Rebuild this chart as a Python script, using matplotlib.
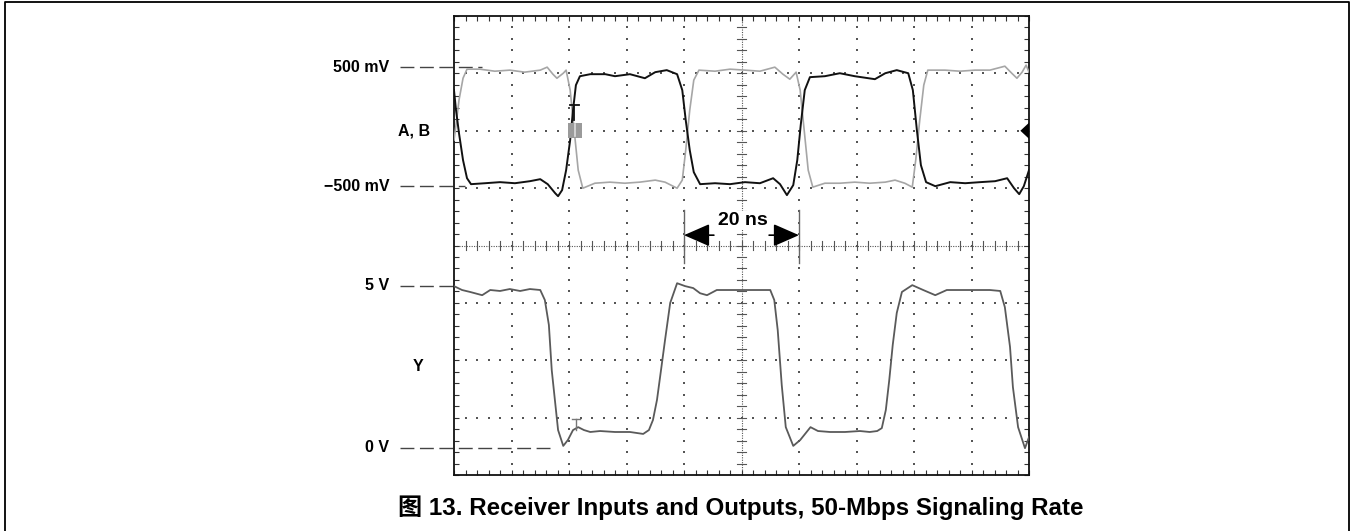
import numpy as np
import matplotlib
matplotlib.use("Agg")
import matplotlib.pyplot as plt
from matplotlib.lines import Line2D
from matplotlib.patches import Rectangle, Polygon

plt.rcParams['font.family'] = ['Liberation Sans', 'Noto Sans CJK SC', 'DejaVu Sans']

# trace A (black), time in ns, level in mV
t_a = [0, 0.35, 0.87, 1.57, 2.26, 2.96, 5.4, 8.0, 10.6, 13.2, 15.0, 16.3, 17.6, 18.1, 18.8, 19.5,
       20.2, 20.7, 21.2, 21.9, 23.7, 26.3, 28.0, 30.6, 33.2, 35.0, 37.0, 38.8, 39.7, 40.3, 41.0,
       41.7, 42.8, 45.4, 48.0, 50.6, 53.2, 55.5, 56.7, 57.9, 59.0, 59.7, 60.3, 61.0, 61.9, 64.5,
       67.1, 69.7, 73.2, 75.0, 77.0, 79.0, 79.8, 80.5, 81.2, 82.1, 83.7, 86.3, 88.9, 91.5, 94.1,
       96.2, 97.4, 98.3, 99.1, 100]
mv_a = [306, 139, -55, -281, -433, -483, -475, -466, -475, -458, -441, -483, -559, -584, -533, -365,
        -113, 139, 349, 424, 441, 441, 424, 441, 407, 458, 475, 441, 307, 55, -197,
        -382, -483, -475, -483, -466, -475, -433, -483, -575, -491, -281, 13, 307, 416, 424,
        449, 424, 399, 449, 475, 449, 307, -29, -323, -466, -500, -466, -475, -466, -458,
        -433, -517, -567, -500, -365]

# trace B (gray), time in ns, level in mV
t_b = [0, 0.35, 0.87, 1.57, 2.26, 4.5, 7.1, 9.7, 12.3, 15.0, 16.2, 17.2, 17.9, 19.0, 19.5, 20.2,
       20.9, 21.6, 22.4, 24.5, 27.1, 29.7, 32.3, 35.0, 36.7, 38.8, 39.7, 40.3, 41.0, 41.7, 42.6,
       45.4, 48.0, 50.6, 53.2, 55.8, 57.2, 58.4, 59.5, 60.2, 60.9, 61.6, 62.4, 64.5, 67.1, 69.7,
       72.3, 75.0, 76.7, 78.4, 79.7, 80.3, 81.0, 81.7, 82.4, 85.4, 88.0, 90.6, 93.2, 95.8, 97.0,
       97.9, 98.8, 99.5, 100]
mv_b = [-113, 13, 223, 407, 483, 483, 466, 475, 458, 475, 500, 441, 407, 449, 475, 307,
        -29, -365, -517, -475, -466, -475, -466, -449, -466, -517, -449, -197, 139, 391, 475,
        466, 483, 475, 466, 500, 441, 399, 458, 307, -29, -365, -508, -475, -475, -466,
        -475, -466, -449, -475, -508, -281, 55, 349, 475, 475, 466, 475, 475, 508, 449,
        407, 458, 517, 458]

# output Y, time in ns, level in V
t_y = [0, 1.4, 2.8, 4.9, 6.3, 8.0, 9.7, 11.5, 13.2, 15.0, 15.8, 16.5, 17.0, 17.6, 18.1, 19.0,
       19.8, 20.7, 21.6, 22.6, 23.7, 25.4, 28.0, 30.6, 32.9, 33.9, 34.6, 35.3, 36.0, 36.7, 37.6,
       38.8, 40.2, 41.6, 42.8, 44.0, 45.7, 48.0, 50.6, 53.2, 55.0, 55.7, 56.3, 57.0, 57.7, 59.0,
       60.2, 62.0, 63.3, 65.4, 68.0, 70.6, 72.3, 73.6, 74.4, 75.1, 75.7, 76.3, 77.0, 77.9, 79.7,
       81.6, 83.7, 85.7, 88.0, 90.6, 93.2, 95.0, 95.8, 96.7, 97.2, 98.1, 99.3, 100]
v_y = [4.99, 4.87, 4.81, 4.71, 4.87, 4.84, 4.90, 4.84, 4.90, 4.87, 4.56, 3.79, 2.39, 1.38, 0.54, 0.05,
       0.23, 0.54, 0.63, 0.54, 0.48, 0.51, 0.48, 0.48, 0.42, 0.54, 0.85, 1.47, 2.39, 3.32, 4.47,
       5.08, 4.99, 4.93, 4.77, 4.71, 4.87, 4.87, 4.87, 4.87, 4.87, 4.56, 3.63, 1.93, 0.63, 0.05,
       0.23, 0.63, 0.51, 0.48, 0.48, 0.51, 0.48, 0.51, 0.60, 1.16, 2.09, 3.17, 4.16, 4.81, 5.02,
       4.87, 4.71, 4.87, 4.87, 4.87, 4.87, 4.84, 4.34, 3.11, 1.87, 0.63, -0.02, 0.32]

ch1_labels = ["500 mV", "\u2212500 mV"]
ch1_levels = [500, -500]
ch2_labels = ["5 V", "0 V"]
ch2_levels = [5, 0]
caption = "图 13. Receiver Inputs and Outputs, 50-Mbps Signaling Rate"


def ch1(mv):
    return 6.071 + np.asarray(mv) / 482.0


def ch2(v):
    return 0.479 + np.asarray(v) / 1.774


W, H = 1351, 531
fig = plt.figure(figsize=(W / 100, H / 100), dpi=100)
ax = fig.add_axes([454 / W, (H - 475) / H, 575 / W, 459 / H])
ax.set_xlim(0, 100)
ax.set_ylim(0, 8)

# graticule
gc = '#555555'
for yy in [1, 2, 3, 5, 6, 7]:
    xs = np.arange(2, 100, 2)
    ax.scatter(xs, np.full(len(xs), yy), s=1.2, marker='s', color=gc, linewidths=0, zorder=1)
for xx in [10, 20, 30, 40, 60, 70, 80, 90]:
    ys = np.arange(0.2, 8, 0.2)
    ax.scatter(np.full(len(ys), xx), ys, s=1.2, marker='s', color=gc, linewidths=0, zorder=1)
ax.plot([0, 100], [4, 4], color=gc, lw=0.8, ls=(0, (1, 1.2)), zorder=1)
ax.plot([50, 50], [0, 8], color=gc, lw=0.8, ls=(0, (1, 1.2)), zorder=1)
for xx in np.arange(2, 100, 2):
    ax.plot([xx, xx], [3.93, 4.07], color=gc, lw=0.8, zorder=1)
for yy in np.arange(0.2, 8, 0.2):
    ax.plot([49.3, 50.7], [yy, yy], color=gc, lw=0.8, zorder=1)

ax.set_xticks(np.arange(0, 101, 2))
ax.set_yticks(np.arange(0, 8.01, 0.2))
ax.tick_params(direction='in', length=3.5, width=0.8, color='#333333', top=True, right=True,
               labelbottom=False, labelleft=False)
for s in ax.spines.values():
    s.set_linewidth(1.3)
    s.set_color('#111111')

# cursor lines for the 20 ns marker
for xx in [40, 60]:
    ax.plot([xx, xx], [3.69, 4.62], color='#666666', lw=1.0, zorder=2)

# traces
ax.plot(t_b, ch1(mv_b), color='#a6a6a6', lw=1.2, zorder=3)
ax.plot(t_a, ch1(mv_a), color='#111111', lw=1.4, zorder=4)
ax.plot(t_y, ch2(v_y), color='#5a5a5a', lw=1.3, zorder=3)

# scope markers
ax.plot([20.2, 21.7], [6.45, 6.45], color='#111111', lw=1.3, zorder=5)
ax.plot([20.95, 20.95], [6.45, 6.18], color='#111111', lw=1.3, zorder=5)
ax.add_patch(Rectangle((19.8, 5.87), 2.4, 0.27, facecolor='#9a9a9a', edgecolor='none', zorder=5))
ax.plot([21.0, 21.0], [5.9, 6.11], color='#dddddd', lw=1.2, zorder=6)
ax.plot([20.6, 21.9], [ch2(0.88), ch2(0.88)], color='#777777', lw=1.0, zorder=5)
ax.plot([21.25, 21.25], [ch2(0.88), ch2(0.55)], color='#777777', lw=1.0, zorder=5)
ax.add_patch(Polygon([[98.5, 6.0], [100, 6.14], [100, 5.86]], closed=True, facecolor='black',
                     edgecolor='none', zorder=6, clip_on=False))

# level references and labels
dash = (0, (10, 4))
for lab, lv, x_end in zip(ch1_labels, ch1_levels, [4.9, 1.9]):
    ax.plot([-9.4, x_end], [ch1(lv), ch1(lv)], color='#444444', lw=1.0, ls=dash, clip_on=False, zorder=2)
    ax.text(-11.3, ch1(lv), lab, ha='right', va='center', fontsize=11.5, fontweight='bold')
for lab, lv, x_end in zip(ch2_labels, ch2_levels, [0.2, 17.6]):
    ax.plot([-9.4, x_end], [ch2(lv), ch2(lv)], color='#444444', lw=1.0, ls=dash, clip_on=False, zorder=2)
    ax.text(-11.3, ch2(lv), lab, ha='right', va='center', fontsize=11.5, fontweight='bold')
ax.text(-7.0, 6.0, "A, B", ha='center', va='center', fontsize=11.5, fontweight='bold')
ax.text(-6.3, ch2(2.5), "Y", ha='center', va='center', fontsize=11.5, fontweight='bold')

# 20 ns marker
ax.text(50.3, 4.44, "20 ns", ha='center', va='center', fontsize=14, fontweight='bold', zorder=7,
        bbox=dict(facecolor='white', edgecolor='none', pad=0.5))
ax.annotate("", xy=(40, 4.18), xytext=(45.2, 4.18),
            arrowprops=dict(arrowstyle='-|>,head_length=0.8,head_width=0.35', mutation_scale=20,
                            color='black', lw=1.2, shrinkA=0, shrinkB=0), zorder=7)
ax.annotate("", xy=(60, 4.18), xytext=(54.8, 4.18),
            arrowprops=dict(arrowstyle='-|>,head_length=0.8,head_width=0.35', mutation_scale=20,
                            color='black', lw=1.2, shrinkA=0, shrinkB=0), zorder=7)

fig.text(741 / W, 1 - 508 / H, caption, ha='center', va='center', fontsize=17.4, fontweight='bold')

# outer frame
fig.add_artist(Line2D([5 / W, 5 / W, 1349 / W, 1349 / W], [0, 1 - 2 / H, 1 - 2 / H, 0],
                      transform=fig.transFigure, color='black', lw=1.3))

fig.savefig("out.png", dpi=100)
